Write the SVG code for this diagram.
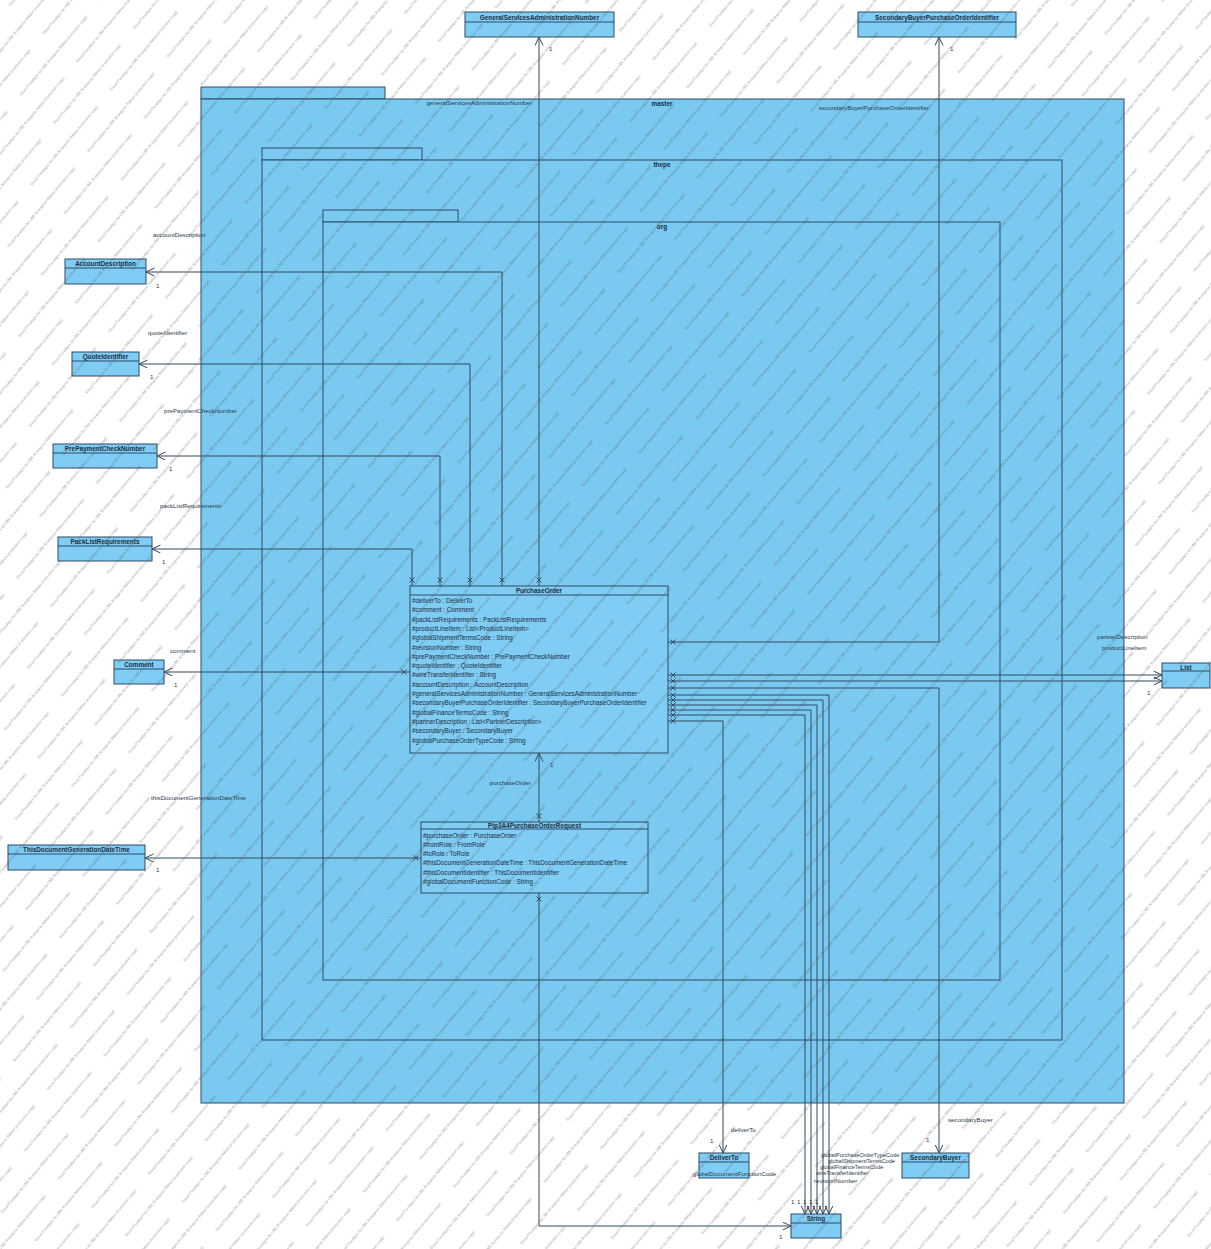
<svg xmlns="http://www.w3.org/2000/svg" xmlns:xlink="http://www.w3.org/1999/xlink" width="1211" height="1249" viewBox="0 0 1211 1249">
<style>
.pkg{fill:#79c9f1;stroke:#2e4a66;stroke-width:1}
.cls{fill:#7fcdf4;stroke:#2e4a66;stroke-width:1}
.hd{stroke:#2e4a66;stroke-width:1}
.t{font-family:"Liberation Sans",Arial,sans-serif;font-size:6.3px;fill:#1c2c3c}
.tb{font-family:"Liberation Sans",Arial,sans-serif;font-size:6.4px;font-weight:bold;fill:#1c2c3c;text-anchor:middle}
.lb{font-family:"Liberation Sans",Arial,sans-serif;font-size:6.2px;fill:#2a3a4a}
.sm{font-size:5.6px}
.end{text-anchor:end}
.ln{fill:none;stroke:#34485e;stroke-width:1;marker-end:url(#arr)}
.xm{fill:none;stroke:#34485e;stroke-width:1}
.wmt{font-family:"Liberation Sans",Arial,sans-serif;font-size:3.8px;fill:#555}
</style>
<defs>
<marker id="arr" markerUnits="userSpaceOnUse" markerWidth="10" markerHeight="10" refX="8.5" refY="4" orient="auto">
<path d="M0,0 L8.5,4 L0,8" fill="none" stroke="#34485e" stroke-width="1"/>
</marker>
<path id="x" class="xm" d="M-2.5,-2.5 L2.5,2.5 M2.5,-2.5 L-2.5,2.5"/>
<pattern id="wm" patternUnits="userSpaceOnUse" width="124" height="44" patternTransform="rotate(-50)">
<text class="wmt" x="2" y="12">Visual Paradigm for UML Enterprise Edition (evaluation copy)</text>
<text class="wmt" x="64" y="34">Visual Paradigm for UML Enterprise Edition (evaluation copy)</text>
<text class="wmt" x="-60" y="34">Visual Paradigm for UML Enterprise Edition (evaluation copy)</text>
</pattern>
</defs>
<rect x="0" y="0" width="1211" height="1249" fill="#ffffff"/>

<g id="pkg-master">
<rect class="pkg" x="201" y="87" width="184" height="12"/>
<rect class="pkg" x="201" y="99" width="923" height="1004"/>
<text class="tb" x="662" y="106">master</text>
</g>
<g id="pkg-thepe">
<rect class="pkg" x="262" y="148" width="160" height="12"/>
<rect class="pkg" x="262" y="160" width="800" height="880"/>
<text class="tb" x="662" y="167">thepe</text>
</g>
<g id="pkg-org">
<rect class="pkg" x="323" y="210" width="135" height="12"/>
<rect class="pkg" x="323" y="222" width="677" height="758"/>
<text class="tb" x="662" y="229">org</text>
</g>

<g id="GeneralServicesAdministrationNumber">
<rect class="cls" x="465" y="12" width="149" height="25"/>
<line class="hd" x1="465" y1="22" x2="614" y2="22"/>
<text class="tb" x="539.5" y="19.5">GeneralServicesAdministrationNumber</text>
</g>
<g id="SecondaryBuyerPurchaseOrderIdentifier">
<rect class="cls" x="858" y="12" width="158" height="25"/>
<line class="hd" x1="858" y1="22" x2="1016" y2="22"/>
<text class="tb" x="937" y="19.5">SecondaryBuyerPurchaseOrderIdentifier</text>
</g>
<g id="AccountDescription">
<rect class="cls" x="65" y="259" width="81" height="25"/>
<line class="hd" x1="65" y1="268" x2="146" y2="268"/>
<text class="tb" x="105.5" y="266">AccountDescription</text>
</g>
<g id="QuoteIdentifier">
<rect class="cls" x="72" y="352" width="67" height="24"/>
<line class="hd" x1="72" y1="361" x2="139" y2="361"/>
<text class="tb" x="105.5" y="359">QuoteIdentifier</text>
</g>
<g id="PrePaymentCheckNumber">
<rect class="cls" x="53" y="444" width="104" height="24"/>
<line class="hd" x1="53" y1="453" x2="157" y2="453"/>
<text class="tb" x="105" y="451">PrePaymentCheckNumber</text>
</g>
<g id="PackListRequirements">
<rect class="cls" x="58" y="537" width="94" height="24"/>
<line class="hd" x1="58" y1="546" x2="152" y2="546"/>
<text class="tb" x="105" y="544">PackListRequirements</text>
</g>
<g id="Comment">
<rect class="cls" x="114" y="660" width="50" height="24"/>
<line class="hd" x1="114" y1="669" x2="164" y2="669"/>
<text class="tb" x="139" y="667">Comment</text>
</g>
<g id="ThisDocumentGenerationDateTime">
<rect class="cls" x="8" y="845" width="137" height="25"/>
<line class="hd" x1="8" y1="854" x2="145" y2="854"/>
<text class="tb" x="76.5" y="852">ThisDocumentGenerationDateTime</text>
</g>
<g id="PurchaseOrder">
<rect class="cls" x="410" y="586" width="258" height="167"/>
<line class="hd" x1="410" y1="595" x2="668" y2="595"/>
<text class="tb" x="539" y="593">PurchaseOrder</text>
<text class="t" x="412" y="603">#deliverTo : DeliverTo</text>
<text class="t" x="412" y="612.3">#comment : Comment</text>
<text class="t" x="412" y="621.6">#packListRequirements : PackListRequirements</text>
<text class="t" x="412" y="630.9">#productLineItem : List&lt;ProductLineItem&gt;</text>
<text class="t" x="412" y="640.2">#globalShipmentTermsCode : String</text>
<text class="t" x="412" y="649.5">#revisionNumber : String</text>
<text class="t" x="412" y="658.8">#prePaymentCheckNumber : PrePaymentCheckNumber</text>
<text class="t" x="412" y="668.1">#quoteIdentifier : QuoteIdentifier</text>
<text class="t" x="412" y="677.4">#wireTransferIdentifier : String</text>
<text class="t" x="412" y="686.7">#accountDescription : AccountDescription</text>
<text class="t" x="412" y="696">#generalServicesAdministrationNumber : GeneralServicesAdministrationNumber</text>
<text class="t" x="412" y="705.3">#secondaryBuyerPurchaseOrderIdentifier : SecondaryBuyerPurchaseOrderIdentifier</text>
<text class="t" x="412" y="714.6">#globalFinanceTermsCode : String</text>
<text class="t" x="412" y="723.9">#partnerDescription : List&lt;PartnerDescription&gt;</text>
<text class="t" x="412" y="733.2">#secondaryBuyer : SecondaryBuyer</text>
<text class="t" x="412" y="742.5">#globalPurchaseOrderTypeCode : String</text>
</g>
<g id="Pip3A4PurchaseOrderRequest">
<rect class="cls" x="421" y="822" width="227" height="71"/>
<line class="hd" x1="421" y1="829" x2="648" y2="829"/>
<text class="tb" x="534.5" y="827.5">Pip3A4PurchaseOrderRequest</text>
<text class="t" x="423" y="837.5">#purchaseOrder : PurchaseOrder</text>
<text class="t" x="423" y="846.8">#fromRole : FromRole</text>
<text class="t" x="423" y="856.1">#toRole : ToRole</text>
<text class="t" x="423" y="865.4">#thisDocumentGenerationDateTime : ThisDocumentGenerationDateTime</text>
<text class="t" x="423" y="874.7">#thisDocumentIdentifier : ThisDocumentIdentifier</text>
<text class="t" x="423" y="884">#globalDocumentFunctionCode : String</text>
</g>
<g id="List">
<rect class="cls" x="1162" y="663" width="48" height="25"/>
<line class="hd" x1="1162" y1="671" x2="1210" y2="671"/>
<text class="tb" x="1186" y="669.5">List</text>
</g>
<g id="DeliverTo">
<rect class="cls" x="699" y="1153" width="50" height="25"/>
<line class="hd" x1="699" y1="1162" x2="749" y2="1162"/>
<text class="tb" x="724" y="1160">DeliverTo</text>
</g>
<g id="SecondaryBuyer">
<rect class="cls" x="902" y="1153" width="67" height="25"/>
<line class="hd" x1="902" y1="1162" x2="969" y2="1162"/>
<text class="tb" x="935.5" y="1160">SecondaryBuyer</text>
</g>
<g id="String">
<rect class="cls" x="791" y="1214" width="50" height="24"/>
<line class="hd" x1="791" y1="1223" x2="841" y2="1223"/>
<text class="tb" x="816" y="1221">String</text>
</g>

<g id="connectors">
<path class="ln" d="M539,586 V37"/>
<use xlink:href="#x" x="539" y="580"/>
<text class="lb end" x="532" y="105">generalServicesAdministrationNumber</text>
<text class="lb" x="549" y="51">1</text>

<path class="ln" d="M668,642 H939 V37"/>
<use xlink:href="#x" x="673" y="642"/>
<text class="lb end" x="929" y="110">secondaryBuyerPurchaseOrderIdentifier</text>
<text class="lb" x="950" y="51">1</text>

<path class="ln" d="M502,586 V272 H146"/>
<use xlink:href="#x" x="502" y="580"/>
<text class="lb" x="153" y="237">accountDescription</text>
<text class="lb" x="156" y="288">1</text>

<path class="ln" d="M470,586 V364 H139"/>
<use xlink:href="#x" x="470" y="580"/>
<text class="lb" x="148" y="335">quoteIdentifier</text>
<text class="lb" x="150" y="379">1</text>

<path class="ln" d="M440,586 V456 H157"/>
<use xlink:href="#x" x="440" y="580"/>
<text class="lb" x="164" y="413">prePaymentCheckNumber</text>
<text class="lb" x="169" y="471">1</text>

<path class="ln" d="M412,586 V549 H152"/>
<use xlink:href="#x" x="412" y="580"/>
<text class="lb" x="160" y="508">packListRequirements</text>
<text class="lb" x="162" y="564">1</text>

<path class="ln" d="M410,672 H164"/>
<use xlink:href="#x" x="404" y="672"/>
<text class="lb" x="170" y="653">comment</text>
<text class="lb" x="174" y="687">1</text>

<path class="ln" d="M539,822 V753"/>
<use xlink:href="#x" x="539" y="816"/>
<text class="lb end" x="531" y="785">purchaseOrder</text>
<text class="lb" x="550" y="767">1</text>

<path class="ln" d="M421,858 H145"/>
<use xlink:href="#x" x="416" y="858"/>
<text class="lb" x="151" y="800">thisDocumentGenerationDateTime</text>
<text class="lb" x="156" y="872">1</text>

<path class="ln" d="M539,893 V1226 H791"/>
<use xlink:href="#x" x="539" y="899"/>
<text class="lb" x="693" y="1176">globalDocumentFunctionCode</text>
<text class="lb" x="779" y="1239">1</text>

<path class="ln" d="M668,675 H1162"/>
<use xlink:href="#x" x="673" y="675"/>
<text class="lb" x="1097" y="639">partnerDescription</text>

<path class="ln" d="M668,681 H1162"/>
<use xlink:href="#x" x="673" y="681"/>
<text class="lb" x="1102" y="650">productLineItem</text>
<text class="lb" x="1147" y="695">1</text>

<path class="ln" d="M668,688 H939 V1153"/>
<use xlink:href="#x" x="673" y="688"/>
<text class="lb" x="948" y="1122">secondaryBuyer</text>
<text class="lb" x="926" y="1142">1</text>

<path class="ln" d="M668,695 H829 V1214"/>
<use xlink:href="#x" x="673" y="695"/>
<path class="ln" d="M668,700 H823 V1214"/>
<use xlink:href="#x" x="673" y="700"/>
<path class="ln" d="M668,705 H817 V1214"/>
<use xlink:href="#x" x="673" y="705"/>
<path class="ln" d="M668,710 H811 V1214"/>
<use xlink:href="#x" x="673" y="710"/>
<path class="ln" d="M668,715 H805 V1214"/>
<use xlink:href="#x" x="673" y="715"/>
<text class="lb sm" x="821" y="1157">globalPurchaseOrderTypeCode</text>
<text class="lb sm" x="828" y="1163">globalShipmentTermsCode</text>
<text class="lb sm" x="820" y="1169">globalFinanceTermsCode</text>
<text class="lb sm" x="816" y="1175">wireTransferIdentifier</text>
<text class="lb" x="814" y="1183">revisionNumber</text>
<text class="lb" x="791" y="1204">1</text>
<text class="lb" x="797" y="1204">1</text>
<text class="lb" x="803" y="1204">1</text>
<text class="lb" x="809" y="1204">1</text>
<text class="lb" x="815" y="1204">1</text>

<path class="ln" d="M668,721 H723 V1153"/>
<use xlink:href="#x" x="673" y="721"/>
<text class="lb" x="731" y="1132">deliverTo</text>
<text class="lb" x="710" y="1143">1</text>
</g>

<rect x="0" y="0" width="1211" height="1249" fill="url(#wm)" opacity="0.55" pointer-events="none"/>
</svg>
